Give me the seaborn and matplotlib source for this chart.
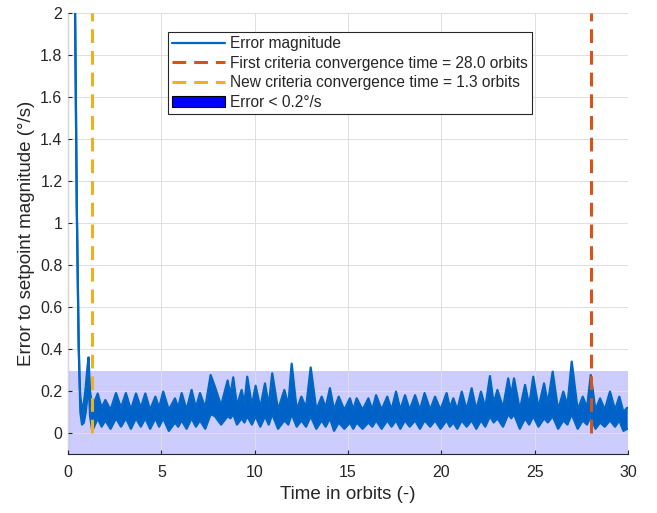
import matplotlib
matplotlib.use("Agg")
import matplotlib.pyplot as plt
import seaborn as sns

# Envelope of the error signal (orbits, deg/s)
t_env = [0.38, 0.42, 0.47, 0.52, 0.57, 0.61, 0.66, 0.75, 0.85, 0.95, 1.05, 1.10, 1.18, 1.30,
         1.59, 1.80, 2.00, 2.28, 2.57, 2.84, 3.10, 3.37, 3.64, 3.90, 4.14, 4.40, 4.68, 4.88,
         5.10, 5.40, 5.73, 5.90, 6.09, 6.35, 6.62, 6.85, 7.07, 7.35, 7.64, 7.87, 8.20, 8.55,
         8.70, 8.85, 9.05, 9.30, 9.45, 9.60, 9.85, 10.05, 10.30, 10.55, 10.75, 10.94, 11.25,
         11.59, 11.80, 11.98, 12.25, 12.50, 12.75, 13.00, 13.30, 13.59, 13.80, 14.03, 14.25,
         14.50, 14.80, 15.10, 15.28, 15.46, 15.78, 16.09, 16.30, 16.50, 16.80, 17.10, 17.33,
         17.57, 17.80, 18.05, 18.30, 18.59, 18.85, 19.10, 19.40, 19.66, 19.95, 20.28, 20.45,
         20.64, 20.85, 21.09, 21.35, 21.62, 21.87, 22.12, 22.35, 22.60, 22.80, 23.00, 23.30,
         23.58, 23.74, 23.89, 24.20, 24.48, 24.70, 24.92, 25.20, 25.50, 25.70, 25.96, 26.25,
         26.53, 26.75, 26.98, 27.30, 27.57, 27.80, 28.00, 28.25, 28.50, 28.75, 29.03, 29.30,
         29.53, 29.75, 29.95]
err_hi = [2.00, 1.60, 1.08, 0.75, 0.43, 0.28, 0.17, 0.12, 0.14, 0.22, 0.32, 0.36, 0.20, 0.12,
          0.188, 0.12, 0.157, 0.11, 0.19, 0.12, 0.19, 0.11, 0.188, 0.12, 0.188, 0.11, 0.173, 0.12,
          0.197, 0.11, 0.165, 0.12, 0.19, 0.11, 0.205, 0.12, 0.19, 0.12, 0.276, 0.22, 0.13, 0.25,
          0.18, 0.265, 0.13, 0.205, 0.14, 0.268, 0.13, 0.225, 0.12, 0.236, 0.13, 0.284, 0.11,
          0.205, 0.13, 0.33, 0.11, 0.173, 0.12, 0.312, 0.11, 0.173, 0.12, 0.213, 0.11,
          0.173, 0.11, 0.165, 0.11, 0.165, 0.11, 0.165, 0.11, 0.18, 0.11, 0.173, 0.11,
          0.197, 0.11, 0.18, 0.11, 0.18, 0.11, 0.19, 0.11, 0.173, 0.11, 0.19, 0.12,
          0.165, 0.11, 0.197, 0.11, 0.213, 0.11, 0.197, 0.12, 0.271, 0.14, 0.205, 0.12,
          0.26, 0.18, 0.26, 0.11, 0.229, 0.13, 0.268, 0.12, 0.236, 0.14, 0.292, 0.11,
          0.197, 0.13, 0.34, 0.11, 0.173, 0.12, 0.276, 0.11, 0.165, 0.11, 0.197, 0.11,
          0.173, 0.10, 0.12]
err_lo = [2.00, 1.60, 1.08, 0.75, 0.43, 0.28, 0.10, 0.04, 0.05, 0.10, 0.18, 0.25, 0.08, 0.01,
          0.07, 0.03, 0.06, 0.02, 0.07, 0.03, 0.07, 0.02, 0.07, 0.03, 0.07, 0.02, 0.07, 0.03,
          0.07, 0.01, 0.05, 0.03, 0.06, 0.02, 0.07, 0.03, 0.06, 0.02, 0.09, 0.08, 0.04, 0.08,
          0.07, 0.09, 0.04, 0.07, 0.05, 0.08, 0.04, 0.08, 0.03, 0.08, 0.04, 0.09, 0.02,
          0.06, 0.04, 0.09, 0.03, 0.06, 0.03, 0.08, 0.02, 0.06, 0.03, 0.07, 0.01,
          0.05, 0.02, 0.05, 0.02, 0.05, 0.02, 0.05, 0.03, 0.06, 0.02, 0.06, 0.03,
          0.06, 0.02, 0.06, 0.03, 0.06, 0.02, 0.06, 0.03, 0.06, 0.02, 0.06, 0.03,
          0.05, 0.02, 0.06, 0.03, 0.06, 0.02, 0.06, 0.03, 0.08, 0.05, 0.07, 0.03,
          0.09, 0.07, 0.09, 0.02, 0.07, 0.04, 0.08, 0.03, 0.07, 0.05, 0.08, 0.02,
          0.06, 0.04, 0.09, 0.02, 0.06, 0.04, 0.08, 0.02, 0.05, 0.03, 0.06, 0.03,
          0.06, 0.01, 0.02]

t_first = 28.0   # first criteria convergence time
t_new = 1.3      # new criteria convergence time
band_x = [0, 30]
band_lo = -0.1
band_hi = 0.295
vline_y = [0, 2]

x_ticks = [0, 5, 10, 15, 20, 25, 30]
y_ticks = [0, 0.2, 0.4, 0.6, 0.8, 1, 1.2, 1.4, 1.6, 1.8, 2]
y_ticklabels = ["0", "0.2", "0.4", "0.6", "0.8", "1", "1.2", "1.4", "1.6", "1.8", "2"]

sns.set_style("white")
plt.rcParams["font.family"] = ["Liberation Sans", "DejaVu Sans"]

fig = plt.figure(figsize=(6.57, 5.13), dpi=100)
ax = fig.add_axes([0.1035, 0.115, 0.8525, 0.86])

# shaded tolerance band
ax.fill_between(band_x, [band_lo, band_lo], [band_hi, band_hi], facecolor=(0, 0, 1, 0.2),
                edgecolor="none", zorder=1, label="Error < 0.2°/s")

# error signal (dense oscillation drawn as its envelope)
ax.fill_between(t_env, err_lo, err_hi, color="#0062C8", lw=0, zorder=3)
sns.lineplot(x=t_env, y=err_hi, ax=ax, color="#0066C6", lw=1.6, estimator=None,
             label="Error magnitude", zorder=4, solid_joinstyle="round")
sns.lineplot(x=t_env, y=err_lo, ax=ax, color="#0066C6", lw=1.6, estimator=None, zorder=4,
             solid_joinstyle="round")

sns.lineplot(x=[t_first, t_first], y=vline_y, ax=ax, color="#D95319", lw=2.2,
             estimator=None, label="First criteria convergence time = 28.0 orbits", zorder=5)
sns.lineplot(x=[t_new, t_new], y=vline_y, ax=ax, color="#EDB120", lw=2.2,
             estimator=None, label="New criteria convergence time = 1.3 orbits", zorder=5)
for ln in ax.lines[-2:]:
    ln.set_dashes((4.5, 2.6))

ax.set_xlim(0, 30)
ax.set_ylim(-0.1, 2)
ax.set_xticks(x_ticks)
ax.set_yticks(y_ticks)
ax.set_yticklabels(y_ticklabels)
ax.tick_params(axis="both", direction="in", length=3, labelsize=11.5, colors="#262626",
               bottom=True, left=True)
ax.tick_params(axis="x", pad=8)
ax.tick_params(axis="y", pad=4)
ax.grid(True, color="#DFDFDF", lw=0.7, zorder=2)
ax.set_axisbelow(False)
for s in ["top", "right"]:
    ax.spines[s].set_visible(False)
for s in ["left", "bottom"]:
    ax.spines[s].set_color("#262626")
    ax.spines[s].set_linewidth(0.8)

ax.set_xlabel("Time in orbits (-)", fontsize=13.5, color="#262626", labelpad=4)
ax.set_ylabel("Error to setpoint magnitude (°/s)", fontsize=13.5, color="#262626", labelpad=4)

handles, labels = ax.get_legend_handles_labels()
order = [labels.index(l) for l in ["Error magnitude",
                                   "First criteria convergence time = 28.0 orbits",
                                   "New criteria convergence time = 1.3 orbits",
                                   "Error < 0.2°/s"]]
leg = ax.legend([handles[i] for i in order], [labels[i] for i in order],
                loc="upper left", bbox_to_anchor=(0.178, 0.957), fontsize=11.2,
                fancybox=False, framealpha=1, edgecolor="#262626", handlelength=3.4,
                handletextpad=0.3, labelspacing=0.28, borderpad=0.3, borderaxespad=0)
leg.get_frame().set_linewidth(0.8)
leg.set_zorder(10)
patch = leg.legend_handles[3]
patch.set_facecolor((0, 0, 1, 1))
patch.set_edgecolor("black")
patch.set_linewidth(0.8)

fig.savefig("out.png", dpi=100)
